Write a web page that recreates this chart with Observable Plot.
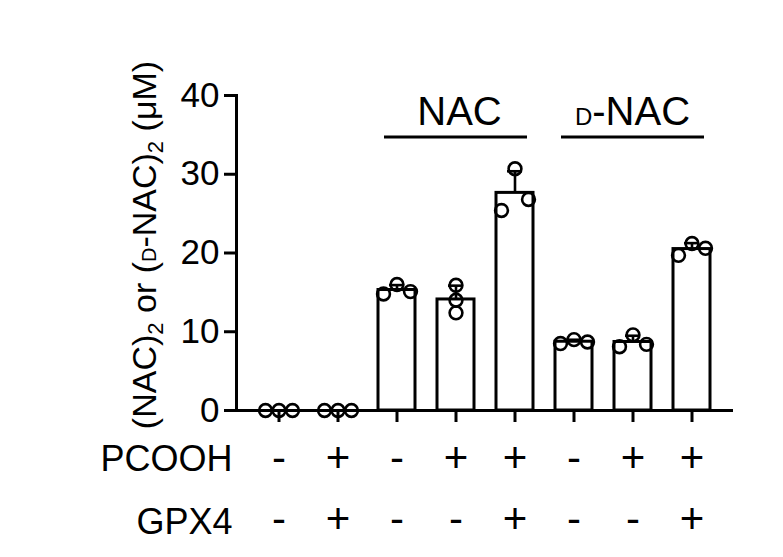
<!DOCTYPE html>
<html><head><meta charset="utf-8">
<script src="https://cdn.jsdelivr.net/npm/d3@7"></script>
<script src="https://cdn.jsdelivr.net/npm/@observablehq/plot@0.6"></script>
<style>body{margin:0;background:#fff;} svg{display:block;}</style>
</head><body><div id="chart"></div>
<script>
// ---- data ----
const categories = ["1","2","3","4","5","6","7","8"];
const pcooh = ["-","+","-","+","+","-","+","+"];
const gpx4  = ["-","+","-","-","+","-","-","+"];
const rep1 = [0.0, 0.0, 14.8, 15.9, 30.7, 8.5, 8.1, 19.7];
const rep2 = [0.0, 0.0, 16.0, 14.0, 25.4, 9.0, 9.6, 21.2];
const rep3 = [0.0, 0.0, 15.1, 12.4, 26.8, 8.7, 8.4, 20.6];
const groupLabels = ["NAC", "D-NAC"];
const groupFrom = ["3", "6"];
const groupTo = ["5", "8"];
const yTicks = [0, 10, 20, 30, 40];
const rowLabels = ["PCOOH", "GPX4"];

// ---- derived tables ----
const reps = [rep1, rep2, rep3];
const summary = categories.map((c, i) => {
  const vals = reps.map(r => r[i]);
  const m = d3.mean(vals), sd = d3.deviation(vals) || 0;
  return {cat: c, mean: m, hi: m + sd, pcooh: pcooh[i], gpx4: gpx4[i]};
});
// scatter slots (GraphPad-like: overlapping replicates spread sideways)
const overlap = 1.55;
const points = [];
categories.forEach((c, i) => {
  const pts = reps.map((r, k) => ({cat: c, rep: k, value: r[i], slot: 0}));
  const sorted = pts.slice().sort((a, b) => a.value - b.value);
  const clusters = [];
  sorted.forEach(p => {
    const last = clusters[clusters.length - 1];
    if (last && p.value - last[last.length - 1].value < overlap) last.push(p);
    else clusters.push([p]);
  });
  clusters.forEach(cl => {
    cl.sort((a, b) => a.rep - b.rep);
    if (cl.length === 2) { cl[0].slot = -1; cl[1].slot = 1; }
    else if (cl.length >= 3) cl.forEach((p, k) => p.slot = k - 1);
  });
  points.push(...pts);
});

const spread = 13.5;
const dotStyle = {x: "cat", y: "value", r: 6.4, stroke: "black", strokeWidth: 2.6, fill: "none"};

const plot = Plot.plot({
  width: 783, height: 557,
  marginLeft: 236, marginRight: 50, marginTop: 95, marginBottom: 147,
  style: {fontFamily: "'Liberation Sans', Arial, sans-serif", background: "white", color: "black"},
  x: {domain: categories, paddingInner: 0.38, paddingOuter: 0.366, axis: null},
  y: {domain: [0, 40], axis: null},
  marks: [
    Plot.barY(summary, {x: "cat", y: "mean", fill: "white", stroke: "black", strokeWidth: 3}),
    Plot.ruleX(summary, {x: "cat", y1: "mean", y2: "hi", stroke: "black", strokeWidth: 2.6}),
    Plot.tickY(summary.filter(d => d.hi > d.mean), {x: "cat", y: "hi", stroke: "black", strokeWidth: 2.6, insetLeft: 11, insetRight: 11}),
    Plot.dot(points.filter(p => p.slot === -1), {...dotStyle, dx: -spread}),
    Plot.dot(points.filter(p => p.slot === 0), {...dotStyle}),
    Plot.dot(points.filter(p => p.slot === 1), {...dotStyle, dx: spread}),
    Plot.axisX({tickSize: 12, strokeWidth: 3, tickFormat: () => "", label: null}),
    Plot.axisY({ticks: yTicks, tickSize: 12, tickPadding: 5, fontSize: 35, strokeWidth: 3, label: null, tickFormat: d3.format("d")}),
    Plot.ruleY([0], {strokeWidth: 3}),
    Plot.frame({anchor: "left", strokeWidth: 3}),
    Plot.text(summary, {x: "cat", text: "pcooh", frameAnchor: "bottom", dy: 61.5, fontSize: 42}),
    Plot.text(summary, {x: "cat", text: "gpx4", frameAnchor: "bottom", dy: 122.5, fontSize: 42}),
    Plot.text([rowLabels[0]], {text: d => d, frameAnchor: "bottom-left", textAnchor: "end", dx: -4, dy: 60, fontSize: 36}),
    Plot.text([rowLabels[1]], {text: d => d, frameAnchor: "bottom-left", textAnchor: "end", dx: -4, dy: 123, fontSize: 36})
  ]
});
document.getElementById("chart").appendChild(plot);

// ---- group brackets and rich-text labels ----
const svg = d3.select(plot);
const xs = plot.scale("x");
const bw = xs.bandwidth;
const inset = 6;
groupLabels.forEach((lab, g) => {
  const x1 = xs.apply(groupFrom[g]) + inset;
  const x2 = xs.apply(groupTo[g]) + bw - inset;
  svg.append("line").attr("x1", x1).attr("x2", x2).attr("y1", 137).attr("y2", 137)
    .attr("stroke", "black").attr("stroke-width", 3);
  const t = svg.append("text").attr("x", (x1 + x2) / 2 + (g === 0 ? 4 : 0)).attr("y", 125)
    .attr("text-anchor", "middle").attr("font-size", 40).attr("fill", "black");
  if (lab.startsWith("D-")) {
    t.append("tspan").attr("font-size", 24).text("D");
    t.append("tspan").text(lab.slice(1));
  } else t.text(lab);
});
// y axis title
const yl = svg.append("text").attr("transform", "translate(156,245) rotate(-90)")
  .attr("text-anchor", "middle").attr("font-size", 34).attr("fill", "black");
yl.append("tspan").text("(NAC)");
yl.append("tspan").attr("font-size", 22).attr("dy", 7).text("2");
yl.append("tspan").attr("dy", -7).text(" or (");
yl.append("tspan").attr("font-size", 20).text("D");
yl.append("tspan").text("-NAC)");
yl.append("tspan").attr("font-size", 22).attr("dy", 7).text("2");
yl.append("tspan").attr("dy", -7).text(" (μM)");
</script></body></html>
